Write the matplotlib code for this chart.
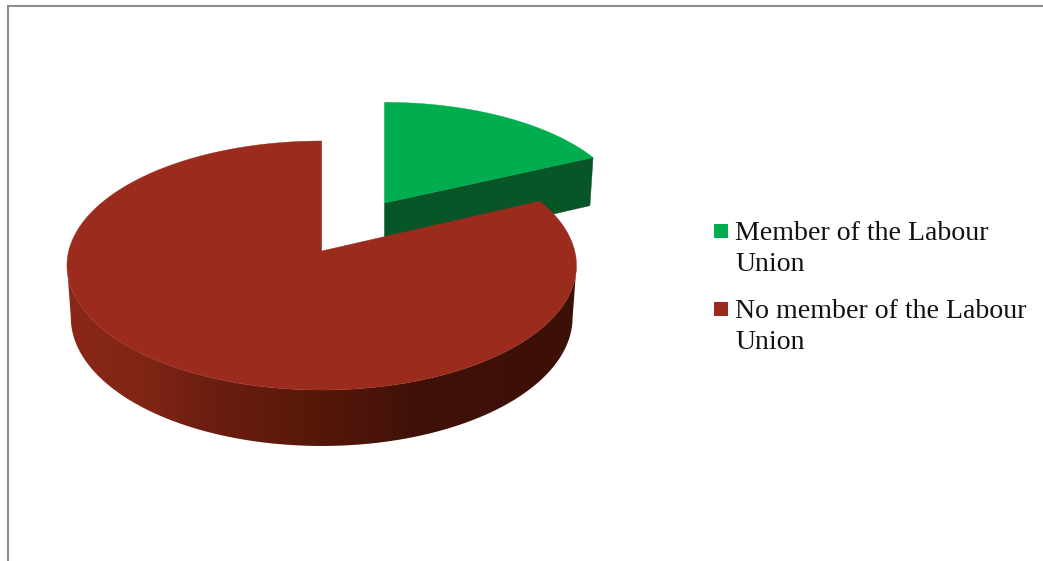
import numpy as np
import matplotlib
matplotlib.use("Agg")
import matplotlib.pyplot as plt
from matplotlib.patches import Polygon, Rectangle
from matplotlib.colors import LinearSegmentedColormap

# data
categories = ["Member of the Labour\nUnion", "No member of the Labour\nUnion"]
values = [18, 82]
explode = [0.485, 0.0]
top_colors = ["#00AE50", "#9A2B1D"]

# layout
W, H = 1043, 561
X0, Y0, A, B, K = 321.7, 251.0, 253.0, 122.8, 0.1165
DROP, SHRINK = 51.3, 0.985
side_cmap = LinearSegmentedColormap.from_list(
    "side", [(0.0, "#8A2818"), (0.16, "#7F2516"), (0.26, "#6F1F11"), (0.5, "#551709"), (0.7, "#3F1108"), (1.0, "#3D1007")])
cut_green = "#085528"


def project(theta, r, offset, bottom=False):
    su = r * np.sin(theta)
    v = r * np.cos(theta) + offset[1]
    w = 1 + K * v
    w_off = 1 + K * offset[1]
    s = SHRINK if bottom else 1.0
    x = X0 + A * (su * s / w + offset[0] / w_off)
    y = Y0 - B * v * s / w + (DROP / w if bottom else 0.0)
    return np.column_stack([np.atleast_1d(x), np.atleast_1d(y)])


fig = plt.figure(figsize=(W / 100, H / 100), dpi=100, facecolor="white")
ax = fig.add_axes([0, 0, 1, 1])
ax.set_xlim(0, W)
ax.set_ylim(H, 0)
ax.axis("off")

# chart frame
ax.plot([8, 8, W], [H, 5.5, 5.5], color="#8E8E8E", lw=1.5, solid_joinstyle="miter")

edges = np.cumsum([0] + values) / sum(values) * 2 * np.pi

# green slice (behind), red slice (front)
for i in range(len(values)):
    start, end = edges[i], edges[i + 1]
    mid = (start + end) / 2
    off = (explode[i] * np.sin(mid), explode[i] * np.cos(mid))
    th = np.linspace(start, end, 600)
    apex_t = project(0.0, 0.0, off)
    apex_b = project(0.0, 0.0, off, bottom=True)
    rim_t = project(th, 1.0, off)
    rim_b = project(th, 1.0, off, bottom=True)
    if i == 0:
        # visible cut face of the exploded slice
        ax.add_patch(Polygon(np.vstack([apex_t, rim_t[-1:], rim_b[-1:], apex_b]),
                             closed=True, fc=cut_green, ec=cut_green, lw=0.3))
    else:
        # rim with smooth horizontal shading, clipped to the side silhouette
        right, left = rim_t[:, 0].argmax(), rim_t[:, 0].argmin()
        outline = np.vstack([rim_t[right:left + 1], rim_b[right:left + 1][::-1]])
        xmin, xmax = rim_t[:, 0].min(), rim_t[:, 0].max()
        base = Polygon(outline, closed=True, fc="none", ec="none")
        ax.add_patch(base)
        im = ax.imshow(np.linspace(0, 1, 512)[None, :], cmap=side_cmap, vmin=0, vmax=1,
                       extent=(xmin, xmax, H, 0), aspect="auto", interpolation="bilinear",
                       zorder=1)
        im.set_clip_path(base)
    ax.add_patch(Polygon(np.vstack([apex_t, rim_t]), closed=True,
                         fc=top_colors[i], ec=top_colors[i], lw=0.3, zorder=2))

ax.set_xlim(0, W)
ax.set_ylim(H, 0)

# legend
for i, (label, color) in enumerate(zip(categories, top_colors)):
    yy = 224 + 78 * i
    ax.add_patch(Rectangle((714, yy), 14, 14, fc=color, ec="none", zorder=3))
    ax.text(735, yy - 3, label, family="Liberation Serif", fontsize=20.1,
            color="#111111", va="top", ha="left", linespacing=1.3, zorder=3)

fig.savefig("out.png", dpi=100, facecolor="white")
